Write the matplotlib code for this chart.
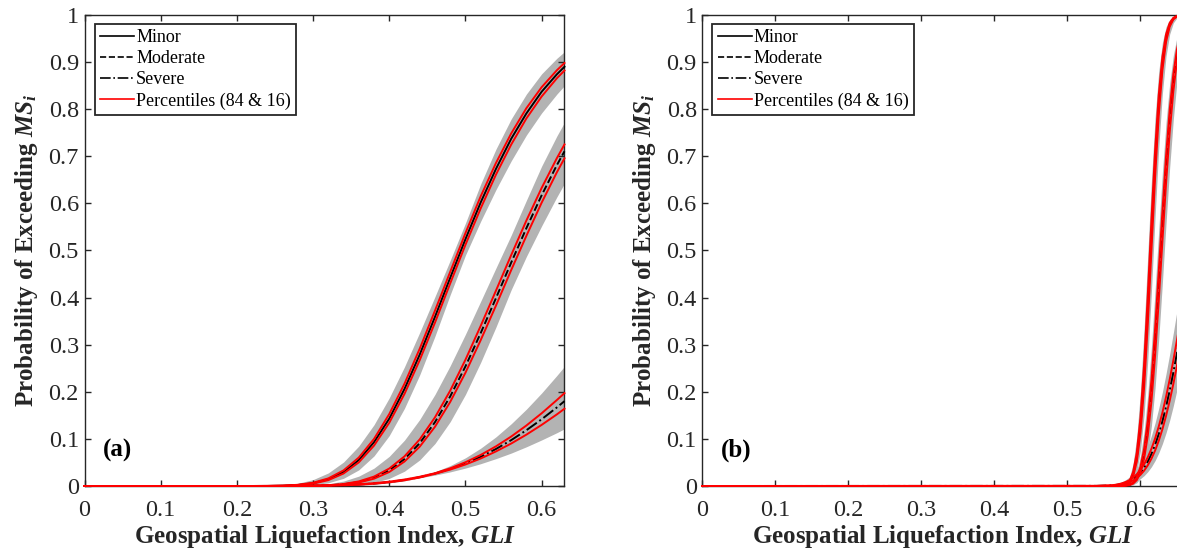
import matplotlib
matplotlib.use("Agg")
import matplotlib.pyplot as plt
from matplotlib.lines import Line2D

plt.rcParams['font.family'] = ['Liberation Serif', 'DejaVu Serif']
plt.rcParams['mathtext.fontset'] = 'custom'
plt.rcParams['mathtext.rm'] = 'Liberation Serif:bold'
plt.rcParams['mathtext.it'] = 'Liberation Serif:italic:bold'
plt.rcParams['mathtext.bf'] = 'Liberation Serif:bold'

# ---- panel (a): GLI values and exceedance probabilities ----
gli_a = [0, 0.22, 0.24, 0.26, 0.28, 0.30, 0.32, 0.34, 0.36, 0.38, 0.40, 0.42,
         0.44, 0.46, 0.48, 0.50, 0.52, 0.54, 0.56, 0.58, 0.60, 0.62, 0.63]

a_minor_med = [0, 0, 0.0001, 0.0006, 0.0021, 0.0059, 0.0142, 0.0296, 0.055, 0.093, 0.143, 0.206,
               0.279, 0.359, 0.442, 0.524, 0.602, 0.673, 0.737, 0.791, 0.837, 0.874, 0.890]
a_minor_p84 = [0, 0, 0.0002, 0.0007, 0.0025, 0.0069, 0.0161, 0.0331, 0.0603, 0.0999, 0.1527, 0.2171,
               0.2915, 0.3722, 0.4546, 0.5367, 0.6149, 0.6855, 0.7483, 0.8021, 0.8466, 0.8826, 0.898]
a_minor_p16 = [0, 0, 0.0001, 0.0005, 0.0017, 0.0050, 0.0124, 0.0265, 0.0501, 0.0857, 0.1342, 0.1955,
               0.2673, 0.3468, 0.4301, 0.5120, 0.5894, 0.6609, 0.7247, 0.7803, 0.8269, 0.8656, 0.882]
a_minor_hi = [0, 0.0001, 0.0006, 0.0021, 0.0057, 0.0135, 0.0277, 0.0508, 0.0847, 0.130, 0.187, 0.253,
              0.326, 0.402, 0.479, 0.558, 0.641, 0.715, 0.779, 0.832, 0.875, 0.908, 0.922]
a_minor_lo = [0, 0, 0, 0.0002, 0.0007, 0.0024, 0.0068, 0.0163, 0.0342, 0.0638, 0.107, 0.165,
              0.236, 0.318, 0.406, 0.490, 0.562, 0.629, 0.690, 0.745, 0.792, 0.832, 0.850]

a_mod_med = [0, 0, 0, 0, 0.0001, 0.0004, 0.0013, 0.0036, 0.0084, 0.0176, 0.0332, 0.0572,
             0.0909, 0.1355, 0.1902, 0.2539, 0.3246, 0.3986, 0.4741, 0.5474, 0.6171, 0.6812, 0.7105]
a_mod_p84 = [0, 0, 0, 0, 0.0001, 0.0005, 0.0016, 0.0042, 0.0097, 0.0199, 0.0370, 0.0629,
             0.0989, 0.1457, 0.2024, 0.2680, 0.3398, 0.4145, 0.4900, 0.5636, 0.6327, 0.6960, 0.7251]
a_mod_p16 = [0, 0, 0, 0, 0, 0.0003, 0.0011, 0.0030, 0.0073, 0.0155, 0.0297, 0.0519,
             0.0835, 0.1257, 0.1785, 0.2404, 0.3096, 0.3828, 0.4582, 0.5311, 0.6014, 0.6660, 0.6957]
a_mod_hi = [0, 0, 0, 0.0002, 0.0006, 0.0018, 0.0047, 0.0104, 0.0209, 0.0379, 0.0629, 0.0973,
            0.1412, 0.1943, 0.2553, 0.3220, 0.392, 0.4626, 0.5323, 0.6064, 0.679, 0.7431, 0.772]
a_mod_lo = [0, 0, 0, 0, 0, 0.0001, 0.0003, 0.0011, 0.0030, 0.0074, 0.0161, 0.0314,
            0.0553, 0.0901, 0.1365, 0.1943, 0.2624, 0.3372, 0.4164, 0.4872, 0.5521, 0.6137, 0.6424]

a_sev_med = [0, 0, 0, 0.0001, 0.0002, 0.0004, 0.0009, 0.0018, 0.0031, 0.0053, 0.0084, 0.0128,
             0.0188, 0.0264, 0.0361, 0.0480, 0.0620, 0.0785, 0.0973, 0.1184, 0.1416, 0.1668, 0.1801]
a_sev_p84 = [0, 0, 0, 0.0001, 0.0003, 0.0006, 0.0012, 0.0021, 0.0037, 0.0060, 0.0092, 0.0137,
             0.0196, 0.0271, 0.0375, 0.0504, 0.0659, 0.0841, 0.1049, 0.1284, 0.1543, 0.1825, 0.1971]
a_sev_p16 = [0, 0, 0, 0, 0.0001, 0.0003, 0.0007, 0.0015, 0.0027, 0.0047, 0.0077, 0.0120,
             0.0180, 0.0258, 0.0348, 0.0456, 0.0583, 0.0733, 0.0901, 0.1090, 0.1297, 0.1520, 0.1640]
a_sev_hi = [0, 0, 0.0001, 0.0003, 0.0006, 0.0011, 0.0019, 0.0032, 0.0050, 0.0074, 0.0107, 0.0149,
            0.0202, 0.0302, 0.0433, 0.0598, 0.0802, 0.1042, 0.1320, 0.1631, 0.1974, 0.2346, 0.2540]
a_sev_lo = [0, 0, 0, 0, 0, 0.0002, 0.0004, 0.0009, 0.0019, 0.0037, 0.0066, 0.0110,
            0.0174, 0.0231, 0.0299, 0.0380, 0.0473, 0.0580, 0.0698, 0.0832, 0.0977, 0.1131, 0.1214]

# ---- panel (b) ----
gli_b = [0, 0.54, 0.56, 0.565, 0.57, 0.575, 0.58, 0.585, 0.59, 0.595, 0.60, 0.605,
         0.61, 0.615, 0.62, 0.625, 0.63, 0.635, 0.64, 0.645, 0.65, 0.655, 0.66]

b_minor_med = [0, 0, 0, 0, 0.0001, 0.0006, 0.0025, 0.0086, 0.0248, 0.0609, 0.128, 0.2336,
               0.3737, 0.5319, 0.684, 0.809, 0.8974, 0.9512, 0.9795, 0.9924, 0.9975, 0.9993, 0.9998]
b_minor_p84 = [0, 0, 0, 0, 0.0002, 0.0008, 0.0032, 0.0106, 0.0298, 0.0711, 0.1455, 0.2588,
               0.4044, 0.5636, 0.7119, 0.8302, 0.9110, 0.9588, 0.9831, 0.9939, 0.9981, 0.9995, 0.9999]
b_minor_p16 = [0, 0, 0, 0, 0.0001, 0.0005, 0.0020, 0.0069, 0.0205, 0.0518, 0.1120, 0.2098,
               0.3438, 0.5000, 0.6551, 0.7867, 0.8824, 0.9426, 0.9752, 0.9905, 0.9968, 0.9990, 0.9997]
b_minor_hi = [0, 0, 0, 0.0001, 0.0004, 0.0017, 0.0061, 0.0186, 0.0481, 0.1060, 0.2016, 0.3347,
              0.4912, 0.6480, 0.7820, 0.880, 0.9414, 0.9748, 0.9904, 0.9968, 0.9991, 0.9998, 1.0]
b_minor_lo = [0, 0, 0, 0, 0, 0.0002, 0.0009, 0.0036, 0.0118, 0.0323, 0.0755, 0.1522,
              0.2670, 0.4129, 0.5710, 0.7174, 0.8332, 0.9126, 0.9593, 0.9832, 0.9939, 0.9980, 0.9994]

b_mod_med = [0, 0, 0, 0, 0.0001, 0.0002, 0.0007, 0.0023, 0.0063, 0.0154, 0.0341, 0.0679,
             0.1224, 0.2013, 0.3040, 0.4239, 0.5505, 0.6715, 0.7755, 0.8573, 0.9158, 0.9539, 0.9766]
b_mod_p84 = [0, 0, 0, 0, 0.0001, 0.0003, 0.0010, 0.0029, 0.0078, 0.0188, 0.0406, 0.0790,
             0.1394, 0.2245, 0.3325, 0.4554, 0.5820, 0.6999, 0.7987, 0.8745, 0.9274, 0.9611, 0.9807]
b_mod_p16 = [0, 0, 0, 0, 0, 0.0002, 0.0006, 0.0018, 0.0050, 0.0126, 0.0285, 0.0580,
             0.1069, 0.1796, 0.2766, 0.3928, 0.5187, 0.6421, 0.7508, 0.8384, 0.9027, 0.9456, 0.9718]
b_mod_hi = [0, 0, 0, 0, 0.0002, 0.0006, 0.0020, 0.0056, 0.0140, 0.0315, 0.0638, 0.1166,
            0.1941, 0.2956, 0.4157, 0.5430, 0.6653, 0.7716, 0.8547, 0.9143, 0.9532, 0.9764, 0.9889]
b_mod_lo = [0, 0, 0, 0, 0, 0.0001, 0.0003, 0.0009, 0.0026, 0.0070, 0.0168, 0.0366,
            0.0717, 0.1278, 0.2081, 0.3114, 0.4313, 0.5573, 0.6762, 0.7788, 0.8593, 0.9168, 0.9543]

b_sev_med = [0, 0.0002, 0.0012, 0.0019, 0.0030, 0.0046, 0.0069, 0.0102, 0.0147, 0.0207, 0.0287, 0.0389,
             0.0519, 0.0679, 0.0872, 0.1103, 0.1372, 0.1680, 0.2027, 0.2410, 0.2824, 0.3267, 0.3733]
b_sev_p84 = [0, 0.0003, 0.0015, 0.0024, 0.0038, 0.0058, 0.0086, 0.0125, 0.0179, 0.0251, 0.0343, 0.0461,
             0.0609, 0.0790, 0.1006, 0.1261, 0.1555, 0.1889, 0.2260, 0.2666, 0.3099, 0.3561, 0.4040]
b_sev_p16 = [0, 0.0001, 0.0009, 0.0015, 0.0023, 0.0036, 0.0055, 0.0082, 0.0119, 0.0170, 0.0238, 0.0326,
             0.0439, 0.0580, 0.0752, 0.0959, 0.1204, 0.1487, 0.1809, 0.2168, 0.2559, 0.2984, 0.3435]
b_sev_hi = [0, 0.0006, 0.0026, 0.0041, 0.0062, 0.0092, 0.0135, 0.0192, 0.0269, 0.0368, 0.0494, 0.0650,
            0.0843, 0.1071, 0.1339, 0.1648, 0.1996, 0.2382, 0.2803, 0.3253, 0.3722, 0.4211, 0.4709]
b_sev_lo = [0, 0.0001, 0.0005, 0.0008, 0.0013, 0.0021, 0.0033, 0.0051, 0.0076, 0.0110, 0.0157, 0.0220,
            0.0303, 0.0408, 0.0539, 0.0701, 0.0897, 0.1128, 0.1396, 0.1703, 0.2044, 0.2423, 0.2833]

state_labels = ['Minor', 'Moderate', 'Severe']
pct_label = 'Percentiles (84 & 16)'
x_ticks = [0, 0.1, 0.2, 0.3, 0.4, 0.5, 0.6]
x_ticklabels = ['0', '0.1', '0.2', '0.3', '0.4', '0.5', '0.6']
y_ticks = [0, 0.1, 0.2, 0.3, 0.4, 0.5, 0.6, 0.7, 0.8, 0.9, 1]
y_ticklabels = ['0', '0.1', '0.2', '0.3', '0.4', '0.5', '0.6', '0.7', '0.8', '0.9', '1']

GRAY = '#b3b3b3'
AXC = '#262626'
styles = ['-', '--', '-.']

fig = plt.figure(figsize=(11.77, 5.5), dpi=100)
ax_a = fig.add_axes([0.0718, 0.1164, 0.4078, 0.8564])
ax_b = fig.add_axes([0.5967, 0.1164, 0.4095, 0.8564])

panels = [
    (ax_a, gli_a, 0.63, '(a)', [
        (a_minor_med, a_minor_p16, a_minor_p84, a_minor_lo, a_minor_hi),
        (a_mod_med, a_mod_p16, a_mod_p84, a_mod_lo, a_mod_hi),
        (a_sev_med, a_sev_p16, a_sev_p84, a_sev_lo, a_sev_hi)]),
    (ax_b, gli_b, 0.66, '(b)', [
        (b_minor_med, b_minor_p16, b_minor_p84, b_minor_lo, b_minor_hi),
        (b_mod_med, b_mod_p16, b_mod_p84, b_mod_lo, b_mod_hi),
        (b_sev_med, b_sev_p16, b_sev_p84, b_sev_lo, b_sev_hi)]),
]

for ax, x, xmax, tag, curves in panels:
    # gray spread of all realisations
    for med, p16, p84, lo, hi in curves:
        ax.fill_between(x, lo, hi, color=GRAY, lw=0, zorder=1)
    # medians
    for (med, p16, p84, lo, hi), ls in zip(curves, styles):
        ax.plot(x, med, color='k', ls=ls, lw=1.4, zorder=3, clip_on=False)
    # percentiles
    for med, p16, p84, lo, hi in curves:
        ax.plot(x, p84, color='#ff0000', lw=1.4, zorder=4, clip_on=False)
        ax.plot(x, p16, color='#ff0000', lw=1.4, zorder=4, clip_on=False)

    ax.set_xlim(0, xmax)
    ax.set_ylim(0, 1)
    ax.set_xticks(x_ticks)
    ax.set_xticklabels(x_ticklabels)
    ax.set_yticks(y_ticks)
    ax.set_yticklabels(y_ticklabels)
    ax.tick_params(direction='in', top=True, right=True, length=4, width=1,
                   labelsize=17.5, colors=AXC)
    ax.tick_params(axis='x', pad=10)
    ax.tick_params(axis='y', pad=4)
    for s in ax.spines.values():
        s.set_linewidth(1.0)
        s.set_color(AXC)

    ax.set_xlabel('Geospatial Liquefaction Index, $GLI$', fontsize=18,
                  fontweight='bold', color=AXC, va='center')
    ax.xaxis.set_label_coords(0.5, -0.107)
    ax.set_ylabel('Probability of Exceeding $MS_i$', fontsize=18,
                  fontweight='bold', color=AXC, va='center')
    ax.yaxis.set_label_coords(-0.12, 0.5)

    ax.text(0.039, 0.075, tag, transform=ax.transAxes, fontsize=18,
            fontweight='bold', va='center', ha='left')

    handles = [Line2D([], [], color='k', ls=ls, lw=1.2) for ls in styles]
    handles.append(Line2D([], [], color='#ff0000', lw=1.2))
    leg = ax.legend(handles, state_labels + [pct_label], loc='upper left',
                    bbox_to_anchor=(0.021, 0.981), borderaxespad=0, fontsize=13,
                    fancybox=False, framealpha=1, edgecolor=AXC,
                    handlelength=1.9, handletextpad=0.1, labelspacing=0.22,
                    borderpad=0.3)
    leg.get_frame().set_linewidth(1.3)

fig.savefig('out.png', dpi=100)
